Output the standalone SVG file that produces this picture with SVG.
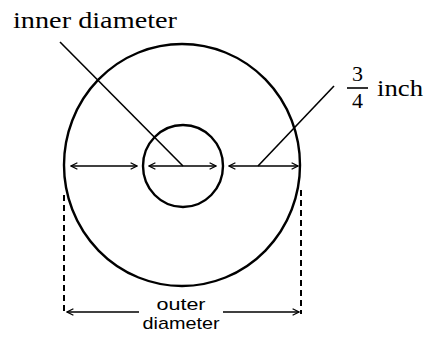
<svg xmlns="http://www.w3.org/2000/svg" width="431" height="339" viewBox="0 0 431 339">
<style>
.ln{stroke:#000;stroke-width:1.6;fill:none}
.circ{stroke:#000;stroke-width:2.4;fill:none}
.dash{stroke:#000;stroke-width:2;stroke-dasharray:6 4;fill:none}
.serif{font-family:"Liberation Serif","Times New Roman",serif;fill:#000}
.sans{font-family:"Liberation Sans",Arial,sans-serif;fill:#000}
</style>
<defs>
<marker id="ah" viewBox="0 0 10 10" refX="9" refY="5" markerWidth="8" markerHeight="8" markerUnits="userSpaceOnUse" orient="auto-start-reverse">
<path d="M1,1 L9,5 L1,9" fill="none" stroke="#000" stroke-width="1.6"/>
</marker>
</defs>
<g id="outer-circle"><ellipse class="circ" cx="182" cy="165" rx="118" ry="121"/></g>
<g id="inner-circle"><ellipse class="circ" cx="183" cy="166" rx="40" ry="41"/></g>
<g id="label-inner"><text class="serif" x="13" y="28" font-size="23" textLength="164" lengthAdjust="spacingAndGlyphs">inner diameter</text></g>
<g id="label-three-quarter">
<text class="serif" x="357.5" y="81" font-size="22" text-anchor="middle">3</text>
<line class="ln" x1="347" y1="88" x2="368" y2="88"/>
<text class="serif" x="357.5" y="108" font-size="22" text-anchor="middle">4</text>
<text class="serif" x="377" y="96" font-size="23" textLength="46" lengthAdjust="spacingAndGlyphs">inch</text>
</g>
<g id="label-outer">
<text class="sans" x="181" y="310" font-size="17" text-anchor="middle" textLength="49" lengthAdjust="spacingAndGlyphs">outer</text>
<text class="sans" x="181" y="329" font-size="17" text-anchor="middle" textLength="77" lengthAdjust="spacingAndGlyphs">diameter</text>
</g>
<g id="connectors">
<line class="ln" x1="60" y1="42" x2="183" y2="166"/>
<line class="ln" x1="258" y1="166" x2="334" y2="86"/>
<line class="ln" x1="71" y1="166" x2="137" y2="166" marker-start="url(#ah)" marker-end="url(#ah)"/>
<line class="ln" x1="149" y1="166" x2="216" y2="166" marker-start="url(#ah)" marker-end="url(#ah)"/>
<line class="ln" x1="229" y1="166" x2="298" y2="166" marker-start="url(#ah)" marker-end="url(#ah)"/>
<line class="dash" x1="64" y1="195" x2="64" y2="314"/>
<line class="dash" x1="301" y1="190" x2="301" y2="314"/>
<line class="ln" x1="67" y1="312" x2="139" y2="312" marker-start="url(#ah)"/>
<line class="ln" x1="223" y1="312" x2="299" y2="312" marker-end="url(#ah)"/>
</g>
</svg>
